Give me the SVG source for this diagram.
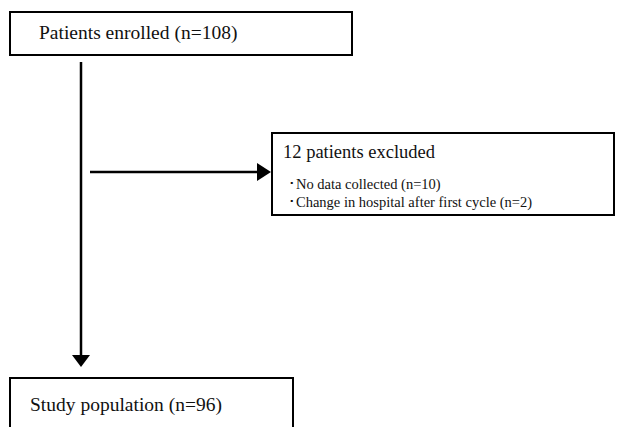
<svg xmlns="http://www.w3.org/2000/svg" width="632" height="427" viewBox="0 0 632 427">
<style>
.box{fill:#fff;stroke:#000;stroke-width:2}
.t{font-family:"Liberation Serif","Times New Roman",serif;fill:#111}
.big{font-size:19.5px}
.mid{font-size:18.5px}
.sm{font-size:14.5px}
.ln{stroke:#000;stroke-width:2.5;fill:none}
</style>
<rect width="632" height="427" fill="#fff"/>
<g id="connectors">
<line class="ln" x1="81" y1="62" x2="81" y2="355"/>
<path d="M72,355 L90,355 L81,367 Z" fill="#000"/>
<line class="ln" x1="90" y1="172" x2="258" y2="172"/>
<path d="M257,163 L271,172 L257,181 Z" fill="#000"/>
</g>
<g id="enrolled">
<rect class="box" x="10" y="12" width="342" height="43"/>
<text class="t big" x="39" y="39">Patients enrolled (n=108)</text>
</g>
<g id="excluded">
<rect class="box" x="272" y="133" width="342" height="82"/>
<text class="t mid" x="283" y="158">12 patients excluded</text>
<text class="t sm" x="288" y="189">･No data collected (n=10)</text>
<text class="t sm" x="288" y="207">･Change in hospital after first cycle (n=2)</text>
</g>
<g id="study">
<rect class="box" x="10" y="378" width="283" height="60"/>
<text class="t big" x="30" y="411">Study population (n=96)</text>
</g>
</svg>
